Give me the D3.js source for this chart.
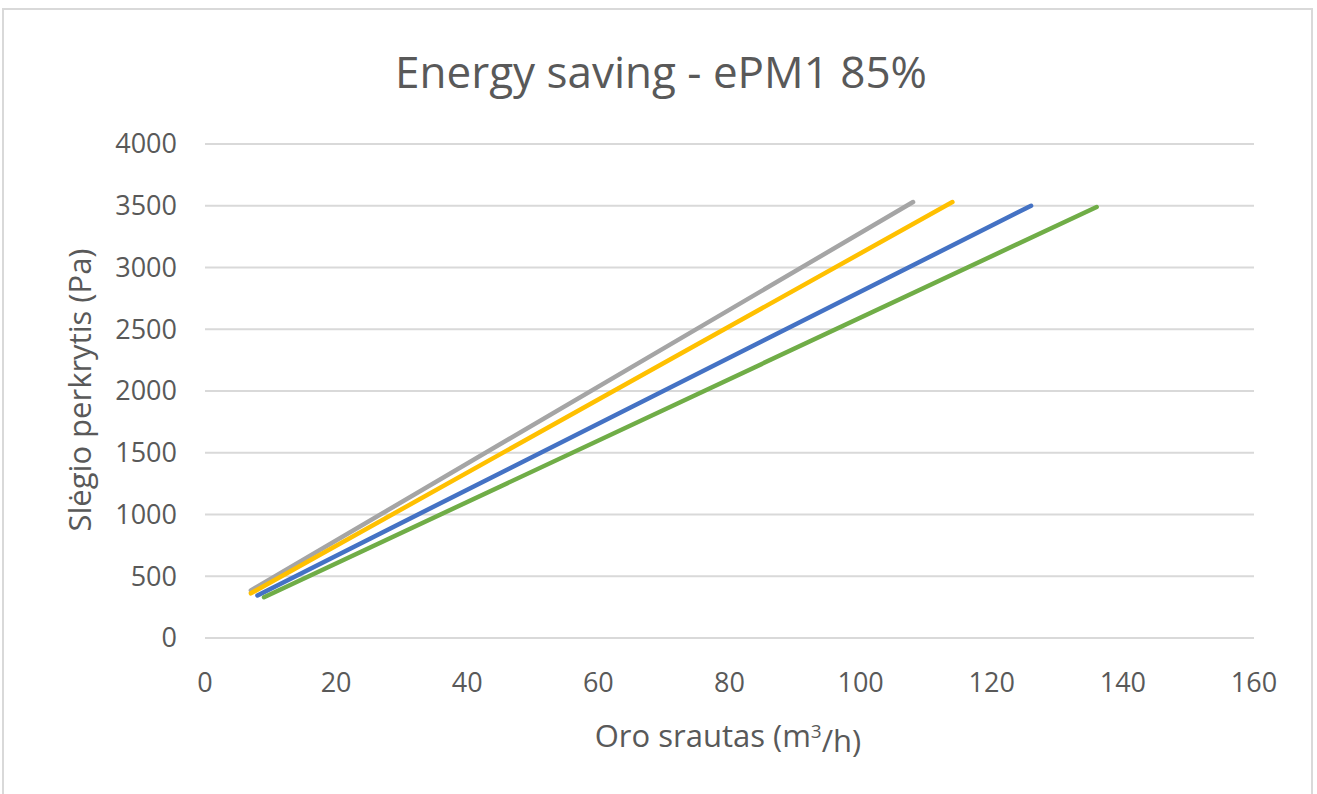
<!DOCTYPE html>
<html>
<head>
<meta charset="utf-8">
<script src="https://cdn.jsdelivr.net/npm/d3@7"></script>
<style>
  body { margin: 0; background: #fff; }
  text { font-family: "Open Sans", "Noto Sans", sans-serif; fill: #595959; }
</style>
</head>
<body>
<svg id="chart" width="1317" height="794"></svg>
<script>
// series: [airflow m3/h, pressure drop Pa]
var grey   = [[7, 385], [108, 3530]];
var yellow = [[7, 362], [114, 3530]];
var blue   = [[8, 345], [126, 3500]];
var green  = [[9, 330], [136, 3490]];

var seriesList = [grey, yellow, blue, green];
var seriesColors = ["#A5A5A5", "#FFC000", "#4472C4", "#70AD47"];

var xTicks = [0, 20, 40, 60, 80, 100, 120, 140, 160];
var yTicks = [0, 500, 1000, 1500, 2000, 2500, 3000, 3500, 4000];

var svg = d3.select("#chart");

// outer frame
svg.append("rect")
  .attr("x", 3).attr("y", 9)
  .attr("width", 1309).attr("height", 800)
  .attr("fill", "#fff")
  .attr("stroke", "#D9D9D9")
  .attr("stroke-width", 2);

var xScale = d3.scaleLinear().domain([0, 160]).range([205, 1254]);
var yScale = d3.scaleLinear().domain([0, 4000]).range([638, 144]);

// gridlines
svg.append("g")
  .selectAll("line")
  .data(yTicks)
  .enter()
  .append("line")
  .attr("x1", xScale(0))
  .attr("x2", xScale(160))
  .attr("y1", function(d) { return yScale(d); })
  .attr("y2", function(d) { return yScale(d); })
  .attr("stroke", "#D9D9D9")
  .attr("stroke-width", 2);

// y tick labels
svg.append("g")
  .selectAll("text")
  .data(yTicks)
  .enter()
  .append("text")
  .attr("x", 177)
  .attr("y", function(d) { return yScale(d); })
  .attr("dy", "0.35em")
  .attr("text-anchor", "end")
  .style("font-size", "27px")
  .text(function(d) { return d; });

// x tick labels
svg.append("g")
  .selectAll("text")
  .data(xTicks)
  .enter()
  .append("text")
  .attr("x", function(d) { return xScale(d); })
  .attr("y", 683)
  .attr("dy", "0.35em")
  .attr("text-anchor", "middle")
  .style("font-size", "27px")
  .text(function(d) { return d; });

// lines
var line = d3.line()
  .x(function(d) { return xScale(d[0]); })
  .y(function(d) { return yScale(d[1]); });

svg.append("g")
  .selectAll("path")
  .data(seriesList)
  .enter()
  .append("path")
  .attr("d", line)
  .attr("fill", "none")
  .attr("stroke", function(d, i) { return seriesColors[i]; })
  .attr("stroke-width", 4.5)
  .attr("stroke-linecap", "round");

// title
svg.append("text")
  .attr("x", 661)
  .attr("y", 73)
  .attr("dy", "0.35em")
  .attr("text-anchor", "middle")
  .style("font-size", "44px")
  .text("Energy saving - ePM1 85%");

// axis titles
var xt = svg.append("text")
  .attr("x", 728)
  .attr("y", 736)
  .attr("dy", "0.35em")
  .attr("text-anchor", "middle")
  .style("font-size", "31px");
xt.append("tspan").text("Oro srautas (m");
xt.append("tspan").attr("dy", "-0.45em").style("font-size", "19px").text("3");
xt.append("tspan").attr("dy", "0.45em").text("/h)");

svg.append("text")
  .attr("transform", "translate(80,390) rotate(-90)")
  .attr("dy", "0.35em")
  .attr("text-anchor", "middle")
  .style("font-size", "31px")
  .text("Slėgio perkrytis (Pa)");
</script>
</body>
</html>
